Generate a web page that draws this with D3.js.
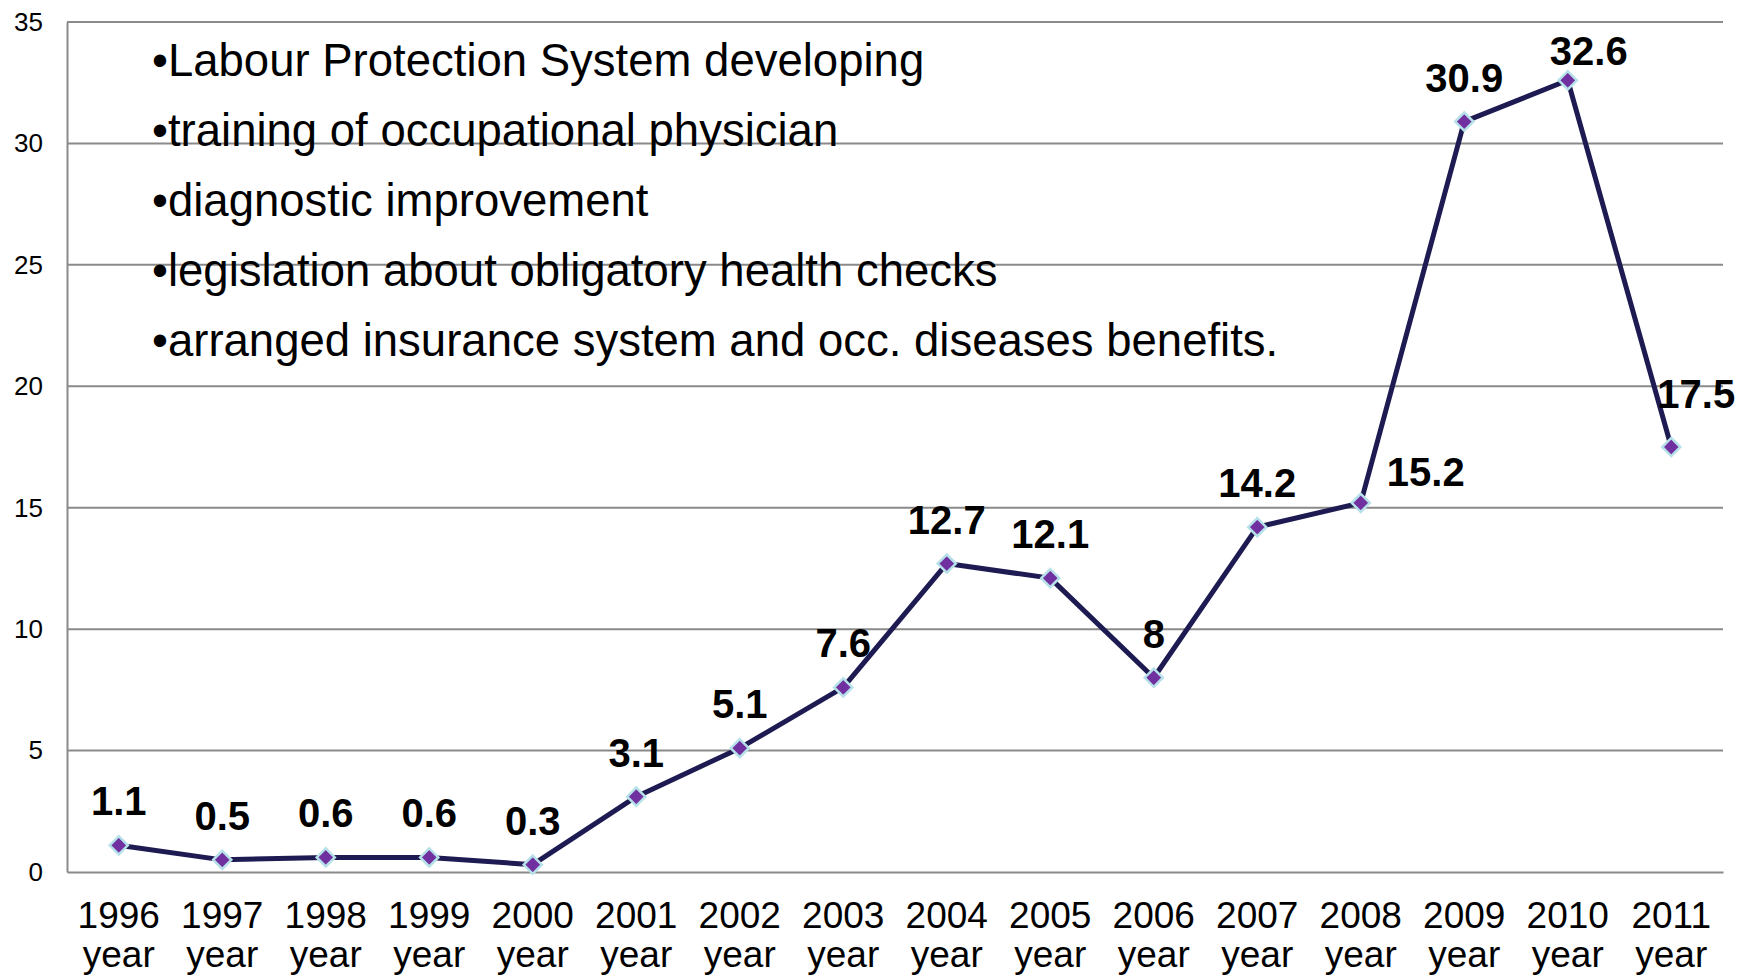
<!DOCTYPE html>
<html>
<head>
<meta charset="utf-8">
<script src="https://cdn.jsdelivr.net/npm/d3@7/dist/d3.min.js"></script>
<style>
  html, body { margin: 0; padding: 0; background: #ffffff; }
  svg { display: block; }
  text { font-family: "Liberation Sans", Arial, Helvetica, sans-serif; fill: #000; }
</style>
</head>
<body>
<svg id="chart" width="1739" height="977"></svg>
<script>
// Occupational disease rate per year
const years = ["1996", "1997", "1998", "1999", "2000", "2001", "2002", "2003",
               "2004", "2005", "2006", "2007", "2008", "2009", "2010", "2011"];
const values = [1.1, 0.5, 0.6, 0.6, 0.3, 3.1, 5.1, 7.6, 12.7, 12.1, 8, 14.2, 15.2, 30.9, 32.6, 17.5];
const valueLabels = ["1.1", "0.5", "0.6", "0.6", "0.3", "3.1", "5.1", "7.6",
                     "12.7", "12.1", "8", "14.2", "15.2", "30.9", "32.6", "17.5"];
const yTicks = [0, 5, 10, 15, 20, 25, 30, 35];
const notes = [
  "\u2022Labour Protection System developing",
  "\u2022training of occupational physician",
  "\u2022diagnostic improvement",
  "\u2022legislation about obligatory health checks",
  "\u2022arranged insurance system and occ. diseases benefits."
];

// Layout
const plot = { left: 67, right: 1723, top: 22, bottom: 872 };
// Label nudges for crowded points: [dx from centre, baseline distance above point]
const labelNudge = { "2008": [65, 17], "2010": [21, 15], "2011": [25, 39] };

const svg = d3.select("#chart");

const x = d3.scaleBand().domain(years).range([plot.left, plot.right]);
const y = d3.scaleLinear().domain([0, 35]).range([plot.bottom, plot.top]);
const cx = d => x(d) + x.bandwidth() / 2;

// Horizontal gridlines
svg.append("g")
  .selectAll("line")
  .data(yTicks.filter(t => t > 0))
  .join("line")
  .attr("x1", plot.left).attr("x2", plot.right)
  .attr("y1", d => y(d)).attr("y2", d => y(d))
  .attr("stroke", "#8a8a8a").attr("stroke-width", 2);

// Y axis
const yAxis = svg.append("g")
  .attr("transform", `translate(${plot.left},0)`)
  .call(d3.axisLeft(y).tickValues(yTicks).tickSize(0).tickPadding(24));
yAxis.select(".domain").attr("stroke", "#8a8a8a").attr("stroke-width", 2);
yAxis.selectAll("text")
  .style("font-family", '"Liberation Sans", Arial, sans-serif')
  .style("font-size", "26px").attr("fill", "#000");

// X axis with two-line category labels
const xAxis = svg.append("g")
  .attr("transform", `translate(0,${plot.bottom})`)
  .call(d3.axisBottom(x).tickSize(0).tickFormat(""));
xAxis.select(".domain").attr("stroke", "#8a8a8a").attr("stroke-width", 2);
xAxis.selectAll(".tick").each(function(d) {
  const t = d3.select(this).append("text")
    .attr("text-anchor", "middle")
    .style("font-size", "37px");
  t.append("tspan").attr("x", 0).attr("y", 56).text(d);
  t.append("tspan").attr("x", 0).attr("y", 95).text("year");
});

// Series line
const line = d3.line()
  .x((d, i) => cx(years[i]))
  .y(d => y(d));
svg.append("path")
  .datum(values)
  .attr("d", line)
  .attr("fill", "none")
  .attr("stroke", "#1d1b52")
  .attr("stroke-width", 5)
  .attr("stroke-linejoin", "round");

// Diamond markers
svg.append("g")
  .selectAll("path")
  .data(values)
  .join("path")
  .attr("d", d3.symbol().type(d3.symbolDiamond2).size(210))
  .attr("transform", (d, i) => `translate(${cx(years[i])},${y(d)})`)
  .attr("fill", "#7030a0")
  .attr("stroke", "#b7e1e8")
  .attr("stroke-width", 2.5);

// Value labels
svg.append("g")
  .selectAll("text")
  .data(values)
  .join("text")
  .attr("text-anchor", "middle")
  .attr("x", (d, i) => cx(years[i]) + (labelNudge[years[i]] ? labelNudge[years[i]][0] : 0))
  .attr("y", (d, i) => y(d) - (labelNudge[years[i]] ? labelNudge[years[i]][1] : 30))
  .style("font-size", "40px")
  .style("font-weight", "bold")
  .text((d, i) => valueLabels[i]);

// Notes block
svg.append("g")
  .selectAll("text")
  .data(notes)
  .join("text")
  .attr("x", 152)
  .attr("y", (d, i) => 76 + i * 70)
  .style("font-size", "45.5px")
  .text(d => d);
</script>
</body>
</html>
